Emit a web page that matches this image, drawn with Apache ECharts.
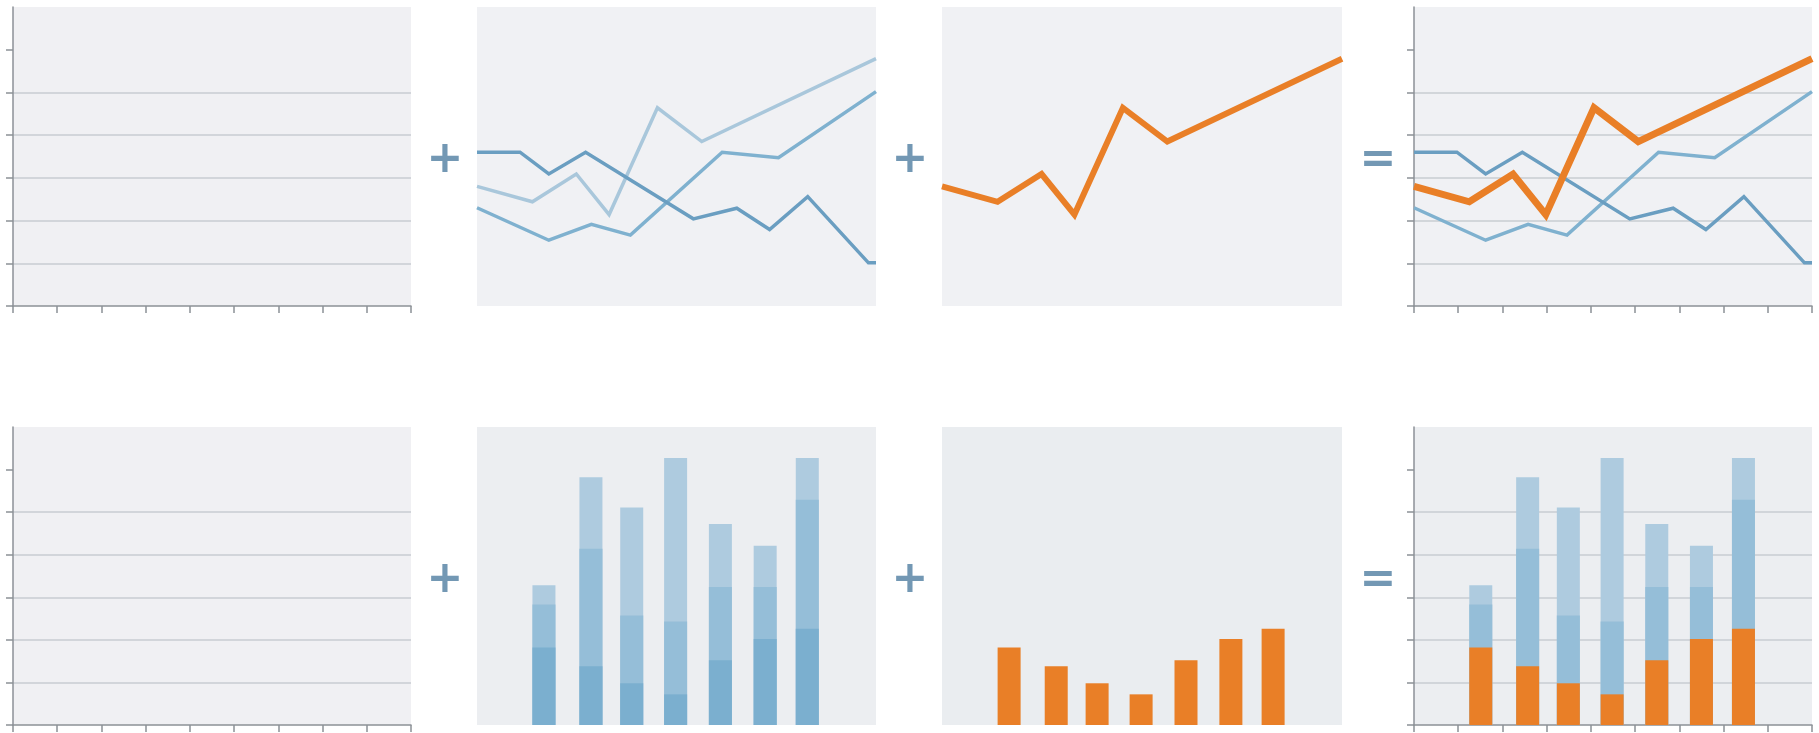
<!DOCTYPE html>
<html>
<head>
<meta charset="utf-8">
<script src="https://cdn.jsdelivr.net/npm/echarts@6/dist/echarts.min.js"></script>
<style>
html,body{margin:0;padding:0;background:#ffffff;}
#c{width:1819px;height:733px;}
</style>
</head>
<body>
<div id="c"></div>
<script>
// ---- data ----
const lineAX = [0, 0.97, 1.62, 2.45, 4.88, 5.86, 6.6, 7.46, 8.83, 9];
const lineAY = [3.60, 3.60, 3.09, 3.60, 2.04, 2.29, 1.79, 2.56, 1.01, 1.01];
const lineBX = [0, 1.25, 2.24, 2.98, 4.07, 5.07, 9];
const lineBY = [2.80, 2.44, 3.09, 2.14, 4.64, 3.85, 5.79];
const lineCX = [0, 1.62, 2.58, 3.46, 5.53, 6.8, 9];
const lineCY = [2.30, 1.54, 1.91, 1.66, 3.60, 3.47, 5.02];

const barX = [1.51, 2.57, 3.49, 4.48, 5.49, 6.5, 7.45];
const barBottom = [1.82, 1.38, 0.98, 0.72, 1.52, 2.02, 2.26];
const barMiddle = [1.01, 2.76, 1.59, 1.71, 1.72, 1.22, 3.03];
const barTop = [0.45, 1.68, 2.54, 3.84, 1.48, 0.97, 0.98];

const yTickValues = [0, 1, 2, 3, 4, 5, 6];
const operators = ['+', '+', '='];

// ---- helpers ----
const pairs = (xs, ys) => xs.map((x, i) => [x, ys[i]]);
const cumulative = (...arrs) => arrs[0].map((_, i) => arrs.reduce((s, a) => s + a[i], 0));

const AXIS_COLOR = '#8c9197';
const GRID_COLOR = '#c9ccd2';
const BLUE_A = '#6a9ec1';
const BLUE_B = '#a9c7db';
const BLUE_C = '#7fb1cf';
const BAR_DARK = '#7bafcf';
const BAR_MID = '#95bed8';
const BAR_LIGHT = '#aecbdf';
const ORANGE = '#e97f27';
const OP_COLOR = '#7398b4';

const panelLefts = [13, 477, 942, 1414];
const panelWidths = [398, 399, 400, 398];
const rowTops = [7, 427];
const rowHeights = [299, 298];
const rowBg = [
  ['#f0f0f3', '#f0f1f4', '#f0f1f4', '#f0f1f4'],
  ['#f0f0f3', '#eceef1', '#eaedf0', '#eceef1']
];
const withAxes = [true, false, false, true];

const grids = [], xAxes = [], yAxes = [];
for (let r = 0; r < 2; r++) {
  for (let p = 0; p < 4; p++) {
    grids.push({
      left: panelLefts[p], top: rowTops[r], width: panelWidths[p], height: rowHeights[r],
      show: true, backgroundColor: rowBg[r][p], borderWidth: 0, containLabel: false
    });
    const idx = r * 4 + p;
    const show = withAxes[p];
    xAxes.push({
      gridIndex: idx, type: 'value', min: 0, max: 9, interval: 1, show: show,
      axisLine: { show: true, onZero: false, lineStyle: { color: AXIS_COLOR, width: 1.5 } },
      axisTick: { show: true, length: 7, lineStyle: { color: AXIS_COLOR, width: 1.5 } },
      axisLabel: { show: false },
      splitLine: { show: false }
    });
    yAxes.push({
      gridIndex: idx, type: 'value', min: 0, max: 7, interval: 1, show: show,
      axisLine: { show: true, lineStyle: { color: AXIS_COLOR, width: 1.5 } },
      axisTick: { show: true, length: 7, customValues: yTickValues, lineStyle: { color: AXIS_COLOR, width: 1.5 } },
      axisLabel: { show: false },
      splitLine: { show: true, showMaxLine: false, showMinLine: false, lineStyle: { color: GRID_COLOR, width: 1.5 } }
    });
  }
}

function line(idx, xs, ys, color, width, z) {
  return {
    type: 'line', xAxisIndex: idx, yAxisIndex: idx, data: pairs(xs, ys),
    symbol: 'none', silent: true, animation: false, z: z || 2,
    lineStyle: { color: color, width: width, join: 'miter', cap: 'butt' }
  };
}
function bars(idx, ys, color, z) {
  return {
    type: 'bar', xAxisIndex: idx, yAxisIndex: idx, data: pairs(barX, ys),
    barWidth: 23, barGap: '-100%', silent: true, animation: false, z: z,
    itemStyle: { color: color }
  };
}

const totals = cumulative(barBottom, barMiddle, barTop);
const lowerTwo = cumulative(barBottom, barMiddle);

const series = [
  // top row, panel 2: three blue lines
  line(1, lineBX, lineBY, BLUE_B, 3.5),
  line(1, lineCX, lineCY, BLUE_C, 3.5),
  line(1, lineAX, lineAY, BLUE_A, 3.5),
  // top row, panel 3: orange line
  line(2, lineBX, lineBY, ORANGE, 6),
  // top row, panel 4: combined
  line(3, lineCX, lineCY, BLUE_C, 3.5),
  line(3, lineAX, lineAY, BLUE_A, 3.5),
  line(3, lineBX, lineBY, ORANGE, 7, 3),
  // bottom row, panel 2: stacked blue bars
  bars(5, totals, BAR_LIGHT, 2),
  bars(5, lowerTwo, BAR_MID, 3),
  bars(5, barBottom, BAR_DARK, 4),
  // bottom row, panel 3: orange bars
  bars(6, barBottom, ORANGE, 2),
  // bottom row, panel 4: combined
  bars(7, totals, BAR_LIGHT, 2),
  bars(7, lowerTwo, BAR_MID, 3),
  bars(7, barBottom, ORANGE, 4)
];

const opCenters = [445, 910, 1378];
const opRowCenters = [161, 581];
const graphic = [];
opRowCenters.forEach((cy) => {
  operators.forEach((op, i) => {
    graphic.push({
      type: 'text', x: opCenters[i], y: cy, silent: true,
      style: {
        text: op, align: 'center', verticalAlign: 'middle',
        font: 'bold 44px "DejaVu Sans"', fill: OP_COLOR
      }
    });
  });
});

const chart = echarts.init(document.getElementById('c'), null, { renderer: 'canvas' });
chart.setOption({
  animation: false,
  backgroundColor: '#ffffff',
  grid: grids,
  xAxis: xAxes,
  yAxis: yAxes,
  series: series,
  graphic: graphic
});
</script>
</body>
</html>
